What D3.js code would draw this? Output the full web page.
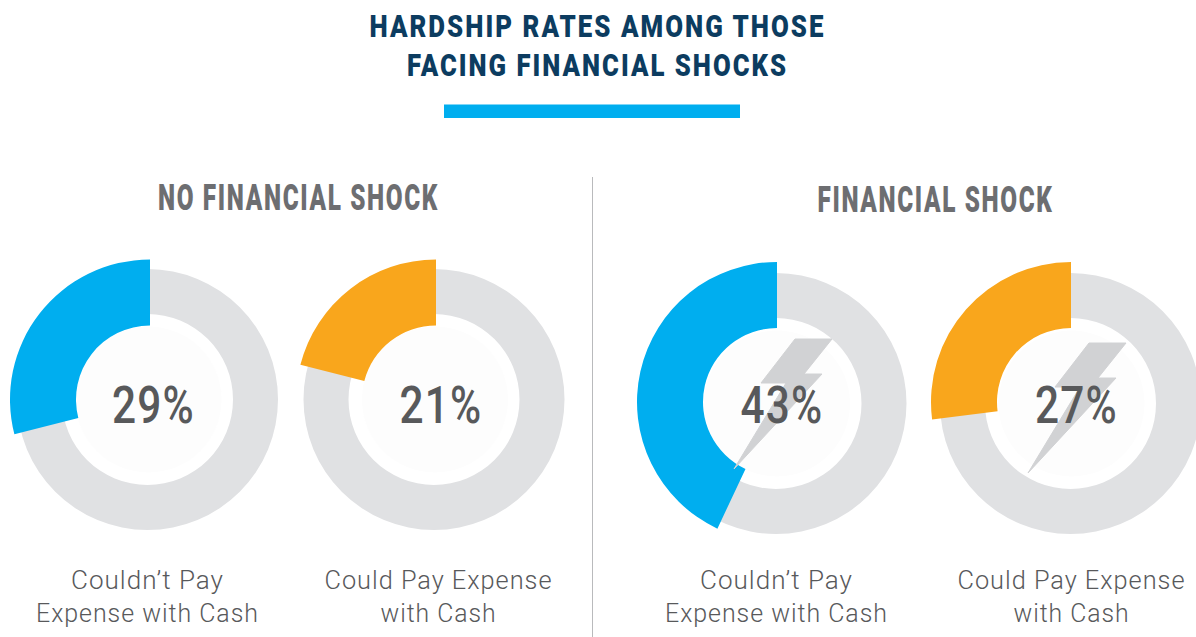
<!DOCTYPE html>
<html><head><meta charset="utf-8">
<script src="https://cdn.jsdelivr.net/npm/d3@7"></script>
<style>html,body{margin:0;padding:0;background:#fff;overflow:hidden}svg{display:block}</style>
</head><body><svg id="c" width="1196" height="637"></svg>
<script>
const titleLines = ["HARDSHIP RATES AMONG THOSE", "FACING FINANCIAL SHOCKS"];
const panelNames = ["NO FINANCIAL SHOCK", "FINANCIAL SHOCK"];
const panelOf = [0, 0, 1, 1];
const values = [29, 21, 43, 27];
const valueLabels = ["29%", "21%", "43%", "27%"];
const seriesColors = ["#00aeef", "#f9a61c", "#00aeef", "#f9a61c"];
const categoryLines = [["Couldn\u2019t Pay", "Expense with Cash"], ["Could Pay Expense", "with Cash"],
                       ["Couldn\u2019t Pay", "Expense with Cash"], ["Could Pay Expense", "with Cash"]];

// layout (separate from the data)
const ringCx = [147.5, 434, 776, 1070.5], ringCy = [399.5, 399.5, 403.5, 403.5];
const arcCx = [150, 436, 777, 1071], arcCy = [399.5, 399.5, 402, 402];
const labelCx = [147.5, 438.5, 776.5, 1071.5];
const pctCx = [153.5, 441, 782, 1076.5];
const headCx = [298.5, 935.5], headBase = [209.5, 211.5], headW = [281, 236];
const titleW = [456, 381], titleBase = [36.5, 76];
const boltPanels = [null, null, [-294, -4], [0, 0]];
const boltPath = [[1089,343],[1126,343],[1098,378],[1116,378],[1028,473],[1080,387],[1055,387]];
const labelW = {"Couldn\u2019t Pay":153,"Expense with Cash":223,"Could Pay Expense":228,"with Cash":116};

const svg = d3.select("#c");
const narrow = "'Roboto','Liberation Sans',sans-serif";
const angle = d3.scaleLinear().domain([0, 100]).range([0, -2 * Math.PI]);
const ring = d3.arc().innerRadius(85.5).outerRadius(130.5).startAngle(0).endAngle(2 * Math.PI);
const wedge = d3.arc().innerRadius(74).outerRadius(140).startAngle(0);

// title
svg.selectAll("text.title").data(titleLines).join("text").attr("class", "title")
  .attr("x", 597.5).attr("y", (d, i) => titleBase[i]).attr("text-anchor", "middle")
  .attr("textLength", (d, i) => titleW[i]).attr("lengthAdjust", "spacingAndGlyphs")
  .style("letter-spacing", "2.5px")
  .attr("font-family", narrow).attr("font-weight", 900).attr("font-size", 32).attr("fill", "#0c3c60").text(d => d);
svg.append("rect").attr("x", 444).attr("y", 104.5).attr("width", 296).attr("height", 13.5).attr("fill", "#00aeef");

// headings + divider
svg.selectAll("text.head").data(panelNames).join("text").attr("class", "head")
  .attr("x", (d, i) => headCx[i]).attr("y", (d, i) => headBase[i]).attr("text-anchor", "middle")
  .attr("textLength", (d, i) => headW[i]).attr("lengthAdjust", "spacingAndGlyphs")
  .style("letter-spacing", "2.5px")
  .attr("font-family", narrow).attr("font-weight", 900).attr("font-size", 37).attr("fill", "#6d6e71").text(d => d);
svg.append("line").attr("x1", 592.5).attr("x2", 592.5).attr("y1", 177).attr("y2", 637).attr("stroke", "#b9babc").attr("stroke-width", 1);

// donuts
const g = svg.selectAll("g.donut").data(values).join("g").attr("class", "donut");
g.append("path").attr("transform", (d, i) => `translate(${ringCx[i]},${ringCy[i]})`).attr("d", () => ring()).attr("fill", "#e0e1e3");
g.append("circle").attr("cx", (d, i) => ringCx[i] + 1).attr("cy", (d, i) => ringCy[i]).attr("r", 73).attr("fill", "#fdfdfd");
g.append("path").attr("transform", (d, i) => `translate(${arcCx[i]},${arcCy[i]})`)
  .attr("d", d => wedge({ endAngle: angle(d) })).attr("fill", (d, i) => seriesColors[i]);

// lightning bolts on the financial-shock panel
const boltLine = d3.line().curve(d3.curveLinearClosed);
g.filter((d, i) => panelOf[i] === 1).append("path")
  .attr("transform", (d, i) => `translate(${boltPanels[i + 2]})`)
  .attr("d", boltLine(boltPath)).attr("fill", "#d1d2d4").attr("stroke", "#d1d2d4").attr("stroke-width", 1).attr("stroke-linejoin", "round");

// value labels
g.append("text").attr("x", (d, i) => pctCx[i]).attr("y", 423).attr("text-anchor", "middle")
  .attr("textLength", 83).attr("lengthAdjust", "spacingAndGlyphs")
  .style("letter-spacing", "1.5px")
  .attr("font-family", narrow).attr("font-weight", 500).attr("font-size", 52).attr("fill", "#58595b").text((d, i) => valueLabels[i]);

// category labels
g.each(function (d, i) {
  d3.select(this).selectAll("text.cat").data(categoryLines[i]).join("text").attr("class", "cat")
    .attr("x", labelCx[i]).attr("y", (t, j) => 589 + j * 33).attr("text-anchor", "middle")
    .attr("textLength", t => labelW[t]).attr("lengthAdjust", "spacingAndGlyphs")
    .style("letter-spacing", "1px")
    .attr("font-family", "Roboto,'Open Sans',sans-serif").attr("font-weight", 300)
    .attr("font-size", 26).attr("fill", "#58595b").text(t => t);
});
</script></body></html>
